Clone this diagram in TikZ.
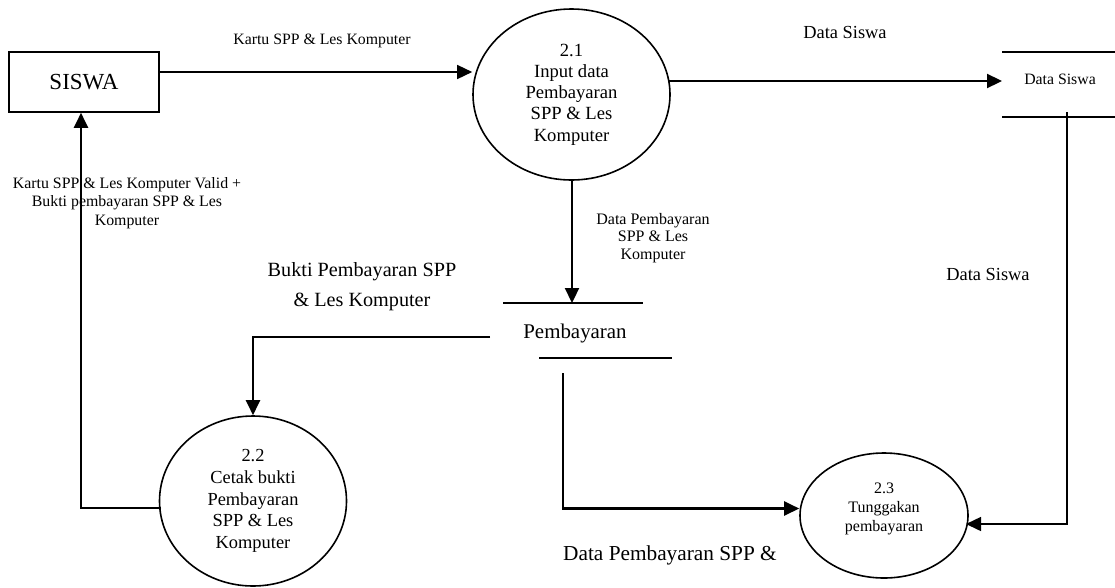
\documentclass[tikz,border=0pt]{standalone}
\usepackage{fontspec}
\setmainfont{Liberation Serif}
\usetikzlibrary{arrows.meta,shapes.geometric,calc}
\begin{document}
\begin{tikzpicture}[x=1pt,y=-1pt,
  proc/.style={draw,ellipse,line width=1.6pt,inner sep=0pt,align=center},
  ent/.style={draw,rectangle,line width=1.6pt,inner sep=0pt},
  thinflow/.style={line width=1.5pt,-{Triangle[length=15pt,width=14pt]}},
  thickflow/.style={line width=2.2pt,-{Triangle[length=15pt,width=14pt]}},
  plain/.style={line width=1.5pt},
  storeline/.style={line width=1.6pt},
  lbl/.style={align=center,inner sep=0pt}]
\useasboundingbox (0,0) rectangle (1115,587);

% entity
\node[ent,minimum width=150pt,minimum height=60pt,font=\fontsize{23}{27}\selectfont] (siswa) at (84,82) {SISWA};

% processes
\node[proc,minimum width=197pt,minimum height=171pt,font=\fontsize{18.6}{21.3}\selectfont] (p21) at (571.5,94.5) {2.1\\Input data\\Pembayaran\\SPP \& Les\\Komputer};
\node[proc,minimum width=187pt,minimum height=170pt,font=\fontsize{18.4}{21.7}\selectfont] (p22) at (253,501) {2.2\\Cetak bukti\\Pembayaran\\SPP \& Les\\Komputer};
\node[proc,minimum width=168pt,minimum height=125pt,font=\fontsize{16}{19}\selectfont] (p23) at (884,515.5) {};
\node[lbl,font=\fontsize{16}{19}\selectfont] (p23t) at (884,509) {2.3\\Tunggakan\\pembayaran};

% data store: Data Siswa
\coordinate (dsTL) at (1002,52);
\coordinate (dsTR) at (1115,52);
\coordinate (dsBL) at (1002,117);
\coordinate (dsBR) at (1115,117);
\draw[storeline] (dsTL) -- (dsTR);
\draw[storeline] (dsBL) -- (dsBR);
\node[lbl,font=\fontsize{15.8}{18}\selectfont] (dst) at (1060,79) {Data Siswa};

% data store: Pembayaran
\coordinate (pbTL) at (503,303);
\coordinate (pbTR) at (643,303);
\coordinate (pbBL) at (539,358);
\coordinate (pbBR) at (672,358);
\draw[storeline] (pbTL) -- (pbTR);
\draw[storeline] (pbBL) -- (pbBR);
\node[lbl,font=\fontsize{20.9}{24}\selectfont] (pbt) at (575,333) {Pembayaran};

% flows
\coordinate (f1s) at (159,72);
\draw[thinflow] (f1s) -- (f1s -| p21.west);

\coordinate (f2s) at (669,81);
\draw[thickflow] (f2s) -- (f2s -| dsTL);

\coordinate (f3e) at (572,303);
\draw[thickflow] (p21.south -| f3e) -- (f3e);

\coordinate (f4s) at (490,337);
\coordinate (f4c) at (253,337);
\draw[thickflow] (f4s) -- (f4c) -- (p22.north);

\coordinate (f5s) at (161,508);
\coordinate (f5c) at (81,508);
\draw[thickflow] (f5s) -- (f5c) -- (f5c |- siswa.south);

\coordinate (f6s) at (563,373);
\coordinate (f6c) at (563,508.5);
\draw[thickflow] (f6s) -- (f6c) -- (f6c -| p23.west);

\coordinate (f7s) at (1067,112);
\coordinate (f7c) at (1067,524);
\coordinate (f7e) at (966,524);
\draw[thinflow] (f7s) -- (f7c) -- (f7e);

% labels
\node[lbl,font=\fontsize{15.8}{18}\selectfont] (l1) at (322,41) {Kartu SPP \& Les Komputer};
\node[lbl,font=\fontsize{18.4}{21}\selectfont] (l2) at (845,32) {Data Siswa};
\node[lbl,font=\fontsize{18.4}{21}\selectfont] (l3) at (988,274) {Data Siswa};
\node[lbl,font=\fontsize{16}{17.5}\selectfont] (l4) at (653,238) {Data Pembayaran\\SPP \& Les\\Komputer};
\node[lbl,font=\fontsize{20.2}{30}\selectfont] (l5) at (362,287) {Bukti Pembayaran SPP\\\& Les Komputer};
\node[lbl,font=\fontsize{15.85}{18.5}\selectfont] (l6) at (127,203) {Kartu SPP \& Les Komputer Valid +\\Bukti pembayaran SPP \& Les\\Komputer};
\node[lbl,font=\fontsize{21.3}{24}\selectfont] (l7) at (670,555) {Data Pembayaran SPP \&};
\end{tikzpicture}
\end{document}
